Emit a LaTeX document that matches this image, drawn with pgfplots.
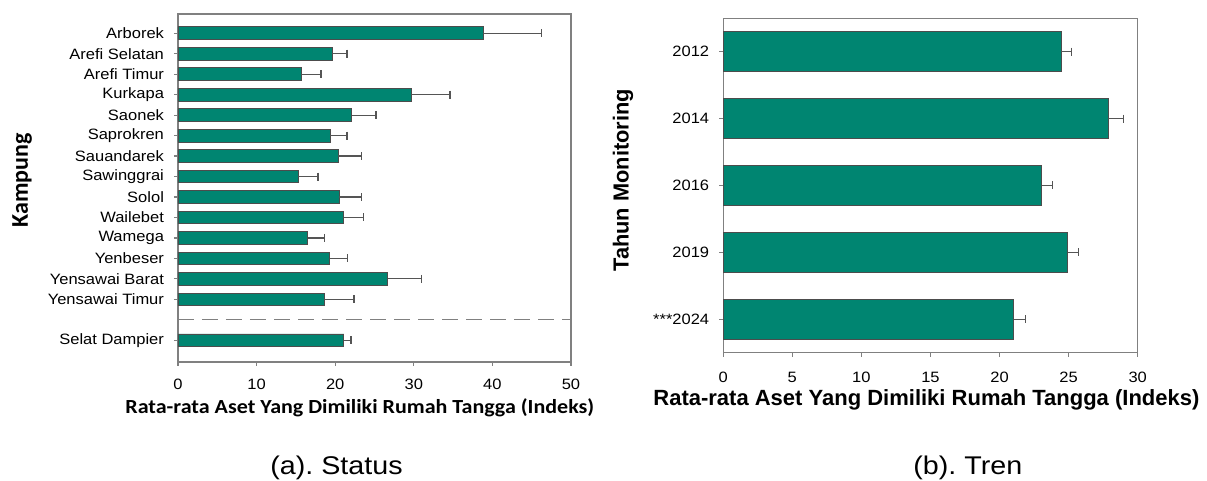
\documentclass[border=0pt]{standalone}
\usepackage{fontspec}
\setmainfont{Liberation Sans}
\newfontfamily\tickfont[FakeStretch=1.1]{Liberation Sans}
\newfontfamily\capfont[FakeStretch=1.12]{Liberation Sans}
\newfontfamily\calfont[FakeStretch=1.1]{Carlito}
\newfontfamily\calplain{Carlito}
\usepackage{pgfplots}
\pgfplotsset{compat=1.18}
\frenchspacing

\definecolor{barteal}{RGB}{0,133,113}
\definecolor{framegray}{RGB}{128,128,128}
\definecolor{errgray}{RGB}{85,85,85}

% (a) status per kampung: pos, mean, +error
\pgfplotstableread{
p  v     e
15 38.8  7.4
14 19.6  1.9
13 15.7  2.5
12 29.7  4.9
11 22.1  3.1
10 19.4  2.1
9  20.4  2.9
8  15.3  2.5
7  20.5  2.8
6  21.1  2.5
5  16.5  2.1
4  19.3  2.3
3  26.7  4.3
2  18.6  3.8
0  21.1  0.9
}\statusdata

% (b) trend per monitoring year
\pgfplotstableread{
p v     e
4 24.46 0.75
3 27.87 1.13
2 23.05 0.80
1 24.93 0.80
0 21.02 0.86
}\trendata

\pgfplotsset{
  panel/.style={
    scale only axis, xbar,
    axis line style={framegray, line width=0.6pt},
    tick style={framegray, line width=0.6pt},
    major tick length=2pt, tick align=outside, tick pos=left,
    /pgf/number format/assume math mode=true,
    ticklabel style={font=\tickfont\fontsize{7.5}{9}\selectfont},
    xticklabel style={yshift=-3pt},
    yticklabel style={xshift=-1.5pt},
  },
  errbar/.style={
    fill=barteal, draw=black!70, line width=0.4pt,
    error bars/.cd, x dir=plus, x explicit, error mark=|,
    error bar style={errgray, line width=0.6pt},
    error mark options={errgray, mark size=2pt, line width=0.6pt},
  },
}

\begin{document}
\begin{tikzpicture}
\path[use as bounding box] (0,0) rectangle (603.5pt,240.5pt);

\begin{axis}[panel,
  at={(89pt,59.5pt)}, anchor=south west,
  width=196.5pt, height=174pt,
  xmin=0, xmax=50, xtick={0,10,...,50},
  ymin=-1.06, ymax=15.94,
  bar width=6.35pt,
  ytick={0,2,3,4,5,6,7,8,9,10,11,12,13,14,15},
  yticklabels={Selat Dampier,Yensawai Timur,Yensawai Barat,Yenbeser,Wamega,Wailebet,Solol,Sawinggrai,Sauandarek,Saprokren,Saonek,Kurkapa,Arefi Timur,Arefi Selatan,Arborek},
]
\addplot[errbar] table[x=v, y=p, x error=e] {\statusdata};
\draw[framegray, line width=0.6pt, dash pattern=on 8pt off 4pt] (axis cs:0,1) -- (axis cs:50,1);
\end{axis}

\begin{axis}[panel,
  at={(361.6pt,64.15pt)}, anchor=south west,
  width=207.25pt, height=167.2pt,
  xmin=0, xmax=30, xtick={0,5,...,30},
  ymin=-0.5, ymax=4.5,
  bar width=20pt,
  xticklabel style={yshift=-1pt},
  ytick={0,1,2,3,4},
  yticklabels={***2024,2019,2016,2014,2012},
]
\addplot[errbar] table[x=v, y=p, x error=e] {\trendata};
\end{axis}

\node[anchor=base west, inner sep=0, font=\calfont\bfseries\fontsize{10}{12}\selectfont]
  at (62.5pt,33.5pt) {Rata-rata Aset Yang Dimiliki Rumah Tangga (Indeks)};
\node[anchor=base west, inner sep=0, font=\bfseries\fontsize{11}{13}\selectfont]
  at (326.5pt,37.5pt) {Rata-rata Aset Yang Dimiliki Rumah Tangga (Indeks)};
\node[rotate=90, anchor=base west, inner sep=0, font=\calplain\bfseries\fontsize{12}{14}\selectfont]
  at (14pt,126.5pt) {Kampung};
\node[rotate=90, anchor=base west, inner sep=0, font=\bfseries\fontsize{10.9}{13}\selectfont]
  at (314.3pt,104.5pt) {Tahun Monitoring};
\node[anchor=base west, inner sep=0, font=\capfont\fontsize{12.8}{15}\selectfont]
  at (135pt,3pt) {(a). Status};
\node[anchor=base west, inner sep=0, font=\capfont\fontsize{12.8}{15}\selectfont]
  at (456.5pt,3pt) {(b). Tren};
\end{tikzpicture}
\end{document}
